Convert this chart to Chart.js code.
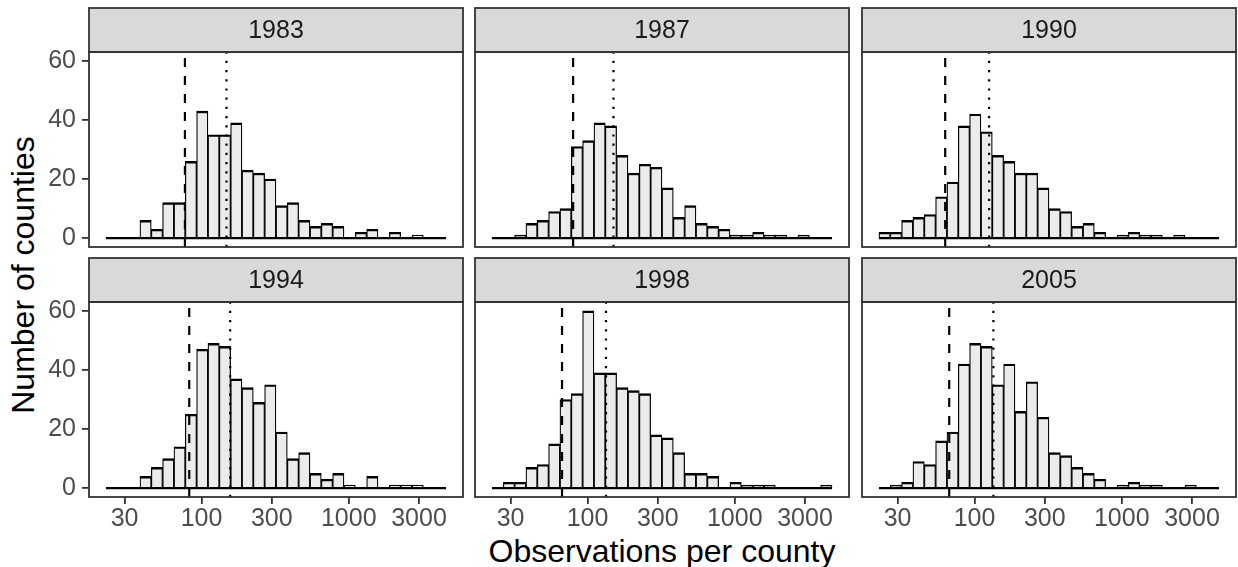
<!DOCTYPE html>
<html>
<head>
<meta charset="utf-8">
<script src="https://cdn.jsdelivr.net/npm/chart.js@4.4.1/dist/chart.umd.min.js"></script>
<style>
  html, body { margin: 0; padding: 0; background: #fff; }
  #wrap { position: relative; width: 1238px; height: 567px; overflow: hidden;
          font-family: "Liberation Sans", Arial, Helvetica, sans-serif; }
  #wrap canvas { position: absolute; }
  .axis-title { position: absolute; color: #000; font-size: 32px; white-space: nowrap; line-height: 1; }
  #xtitle { left: 662px; top: 551px; transform: translate(-50%, -50%); }
  #ytitle { left: 23px; top: 275px; transform: translate(-50%, -50%) rotate(-90deg); }
</style>
</head>
<body>
<div id="wrap">
  <div id="xtitle" class="axis-title">Observations per county</div>
  <div id="ytitle" class="axis-title">Number of counties</div>
</div>
<script>
// --- Data: counties per bin (30 log-spaced bins), one array per year ---
const years = ['1983', '1987', '1990', '1994', '1998', '2005'];
const counts1983 = [0, 0, 0, 6, 3, 12, 12, 26, 43, 35, 35, 39, 23, 22, 20, 11, 12, 6, 4, 5, 4, 0, 2, 3, 0, 2, 0, 1, 0, 0];
const counts1987 = [0, 0, 1, 5, 6, 9, 10, 31, 33, 39, 38, 28, 22, 25, 24, 17, 7, 11, 5, 4, 3, 1, 1, 2, 1, 1, 0, 1, 0, 0];
const counts1990 = [2, 2, 6, 7, 8, 14, 19, 38, 42, 36, 28, 26, 22, 22, 17, 10, 9, 4, 5, 2, 0, 1, 2, 1, 1, 0, 1, 0, 0, 0];
const counts1994 = [0, 0, 0, 4, 7, 10, 14, 25, 47, 49, 48, 37, 34, 29, 35, 19, 10, 12, 5, 3, 5, 1, 0, 4, 0, 1, 1, 1, 0, 0];
const counts1998 = [0, 2, 2, 7, 8, 15, 30, 32, 60, 39, 39, 34, 33, 32, 18, 17, 12, 5, 5, 4, 0, 2, 1, 1, 1, 0, 0, 0, 0, 1];
const counts2005 = [0, 1, 2, 9, 8, 16, 19, 42, 49, 48, 35, 42, 26, 36, 24, 12, 11, 7, 5, 3, 0, 1, 2, 1, 1, 0, 0, 1, 0, 0];
const allCounts = [counts1983, counts1987, counts1990, counts1994, counts1998, counts2005];

// reference lines per year (observations per county)
const dashedAt = [77.1, 79.8, 63.2, 82.5, 67.1, 67.3];
const dottedAt = [147.7, 150, 125.6, 156.5, 133.5, 134.3];

const xTicks = [30, 100, 300, 1000, 3000];
const yTicks = [0, 20, 40, 60];

// bins are equal width in log10 space
const binLog0 = 1.3505, binLogW = 0.077, nBins = 30;
const binEdge = k => Math.pow(10, binLog0 + k * binLogW);
const binMid = k => Math.pow(10, binLog0 + (k + 0.5) * binLogW);

const xMin = 17.2, xMax = 5970;
const yMin = -3, yMax = 63;

// --- Layout ---
const plotLeft = [89, 475, 862];
const plotTop = [52, 302];
const panelW = 374, panelH = 195, stripH = 44;
const yAxisW = 70, xAxisH = 46, pad = 2;
const labelRoom = 20; // keeps y labels from squeezing panels without an x axis
const fontFamily = '"Liberation Sans", Arial, Helvetica, sans-serif';
const tickSize = 25;

Chart.defaults.font.family = fontFamily;

// strip header above each panel plus the panel border
const facetFrame = {
  id: 'facetFrame',
  afterDraw(chart, args, opts) {
    const { ctx, chartArea: a } = chart;
    const w = a.right - a.left;
    ctx.save();
    ctx.lineWidth = 1.8;
    ctx.strokeStyle = '#333333';
    ctx.fillStyle = '#D9D9D9';
    ctx.fillRect(a.left, a.top - stripH, w, stripH);
    ctx.strokeRect(a.left, a.top - stripH, w, stripH);
    ctx.strokeRect(a.left, a.top, w, a.bottom - a.top);
    ctx.fillStyle = '#1A1A1A';
    ctx.font = tickSize + 'px ' + fontFamily;
    ctx.textAlign = 'center';
    ctx.textBaseline = 'middle';
    ctx.fillText(opts.label, a.left + w / 2, a.top - stripH / 2 + 1);
    ctx.restore();
  }
};

const wrap = document.getElementById('wrap');

years.forEach((year, i) => {
  const col = i % 3, row = Math.floor(i / 3);
  const showY = col === 0, showX = row === 1;
  const left = showY ? yAxisW : 0;
  const bottom = showX ? xAxisH : labelRoom;

  const canvas = document.createElement('canvas');
  canvas.width = pad + left + panelW + pad;
  canvas.height = pad + stripH + panelH + bottom + pad;
  canvas.style.left = (plotLeft[col] - left - pad) + 'px';
  canvas.style.top = (plotTop[row] - stripH - pad) + 'px';
  wrap.appendChild(canvas);

  const counts = allCounts[i];

  new Chart(canvas, {
    type: 'bar',
    data: {
      datasets: [
        {
          type: 'bar',
          data: counts.map((c, k) => ({ x: binMid(k), y: c })),
          backgroundColor: '#EBEBEB',
          borderColor: '#000000',
          borderWidth: { top: 2.4, left: 1.25, right: 1.25, bottom: 0 },
          categoryPercentage: 1,
          barPercentage: 1,
          order: 3
        },
        {
          // zero line under the bars
          type: 'line',
          data: [{ x: binEdge(0), y: 0 }, { x: binEdge(nBins), y: 0 }],
          borderColor: '#000000',
          borderWidth: 2.4,
          pointRadius: 0,
          order: 2
        },
        {
          type: 'line',
          data: [{ x: dashedAt[i], y: yMin }, { x: dashedAt[i], y: yMax }],
          borderColor: '#000000',
          borderWidth: 2.2,
          borderDash: [9, 9],
          pointRadius: 0,
          order: 1
        },
        {
          type: 'line',
          data: [{ x: dottedAt[i], y: yMin }, { x: dottedAt[i], y: yMax }],
          borderColor: '#000000',
          borderWidth: 2.2,
          borderDash: [2.2, 7],
          pointRadius: 0,
          order: 1
        }
      ]
    },
    options: {
      responsive: false,
      devicePixelRatio: 1,
      animation: false,
      layout: {
        padding: { left: pad, right: pad, top: pad + stripH, bottom: pad + (showX ? 0 : labelRoom) }
      },
      plugins: {
        legend: { display: false },
        tooltip: { enabled: false },
        facetFrame: { label: year }
      },
      scales: {
        x: {
          type: 'logarithmic',
          min: xMin,
          max: xMax,
          bounds: 'data',
          offset: false,
          display: showX,
          border: { display: false },
          grid: {
            offset: false,
            drawOnChartArea: false,
            drawTicks: true,
            tickLength: 7,
            color: '#333333',
            lineWidth: 1.8
          },
          ticks: {
            autoSkip: false,
            maxRotation: 0,
            padding: 0,
            color: '#4D4D4D',
            font: { size: tickSize },
            callback: v => String(v)
          },
          afterBuildTicks: s => { s.ticks = xTicks.map(v => ({ value: v })); },
          afterFit: s => { if (showX) s.height = xAxisH; }
        },
        y: {
          type: 'linear',
          min: yMin,
          max: yMax,
          bounds: 'data',
          display: showY,
          border: { display: false },
          grid: {
            drawOnChartArea: false,
            drawTicks: true,
            tickLength: 7,
            color: '#333333',
            lineWidth: 1.8
          },
          ticks: {
            padding: 6,
            color: '#4D4D4D',
            font: { size: tickSize }
          },
          afterBuildTicks: s => { s.ticks = yTicks.map(v => ({ value: v })); },
          afterFit: s => { if (showY) s.width = yAxisW; }
        }
      }
    },
    plugins: [facetFrame]
  });
});
</script>
</body>
</html>
